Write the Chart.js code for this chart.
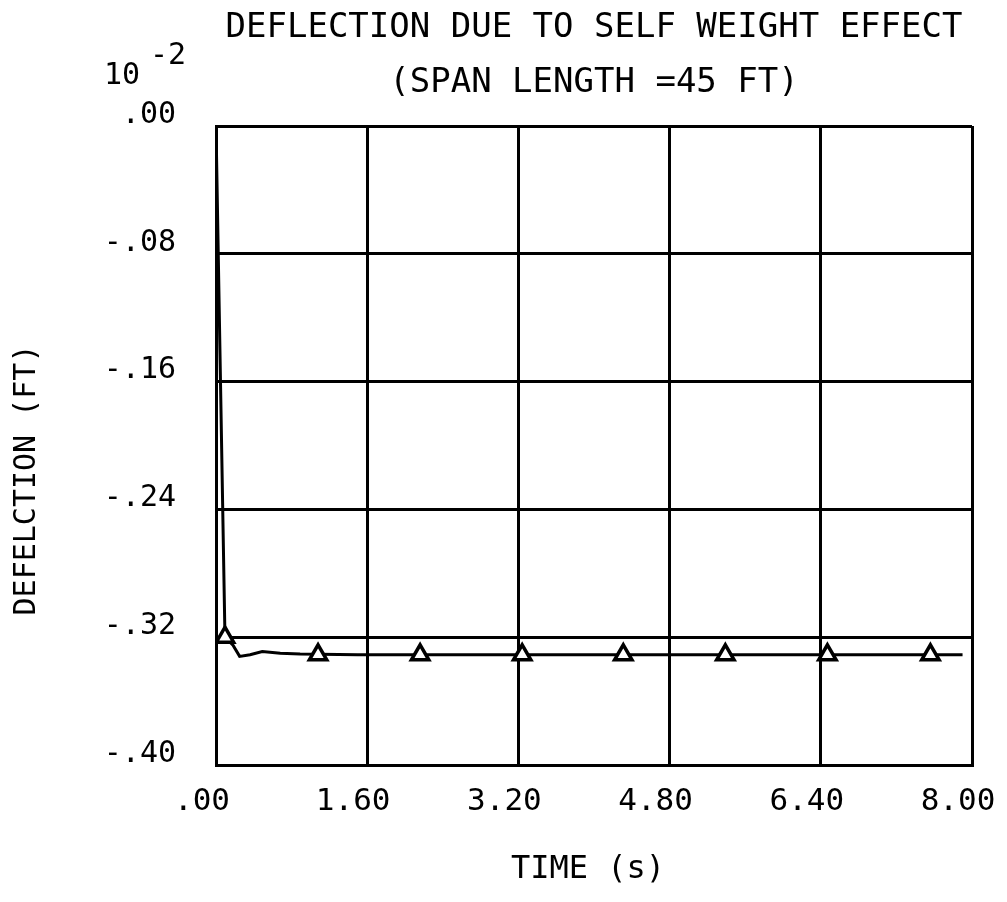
<!DOCTYPE html>
<html>
<head>
<meta charset="utf-8">
<title>Deflection due to self weight</title>
<script src="https://cdn.jsdelivr.net/npm/chart.js@4.4.0/dist/chart.umd.min.js"></script>
<style>
    body { margin: 0; background: #fff; }
    #chart-wrap { width: 1007px; height: 902px; position: relative; }
</style>
</head>
<body>
<div id="chart-wrap"><canvas id="deflection-chart"></canvas></div>
<script>
// midspan deflection vs time, deflection in units of 10^-2 ft
const timeSec = [0, 0.095, 0.18, 0.25, 0.36, 0.49, 0.68, 0.89, 1.5, 3.0, 4.5, 6.0, 7.9]
const deflection = [0, -0.320, -0.325, -0.332, -0.331, -0.329, -0.330, -0.3305, -0.331, -0.331, -0.331, -0.331, -0.331]

// triangle symbols placed along the curve
const markerTime = [0.095, 1.08, 2.16, 3.24, 4.31, 5.39, 6.47, 7.56]
const markerDefl = [-0.320, -0.331, -0.331, -0.331, -0.331, -0.331, -0.331, -0.331]

const xTicks = [0, 1.6, 3.2, 4.8, 6.4, 8.0]
const yTicks = [0, -0.08, -0.16, -0.24, -0.32, -0.40]

const plotFont = "'DejaVu Sans Mono', monospace"

// old plotter style: no leading zero, ".00", "-.08", "1.60"
function plotLabel(v) {
    return v.toFixed(2).replace(/^(-?)0\./, '$1.')
}

const toPoints = (xs, ys) => xs.map((x, i) => ({ x: x, y: ys[i] }))

// exponent note and axis captions
const captions = {
    id: 'captions',
    afterDraw(chart) {
        const ctx = chart.ctx
        ctx.save()
        ctx.fillStyle = '#000'
        ctx.textBaseline = 'alphabetic'
        ctx.textAlign = 'left'
        ctx.font = `30px ${plotFont}`
        ctx.fillText('10', 104, 84)
        ctx.fillText('-2', 150, 64)

        ctx.textAlign = 'center'
        ctx.textBaseline = 'middle'
        ctx.font = `32px ${plotFont}`
        ctx.fillText('TIME (s)', 588, 870)

        ctx.translate(27, 480)
        ctx.rotate(-Math.PI / 2)
        ctx.font = `30px ${plotFont}`
        ctx.fillText('DEFELCTION (FT)', 0, 0)
        ctx.restore()
    }
}

const deflectionCanvas = document.getElementById('deflection-chart')

new Chart(deflectionCanvas, {
    type: 'line',
    data: {
        datasets: [{
            label: 'markers',
            data: toPoints(markerTime, markerDefl),
            showLine: false,
            pointStyle: 'triangle',
            pointRadius: 10,
            pointBorderWidth: 3.5,
            pointBackgroundColor: '#fff',
            pointBorderColor: '#000'
        }, {
            label: 'deflection',
            data: toPoints(timeSec, deflection),
            borderColor: '#000',
            borderWidth: 3,
            pointRadius: 0,
            tension: 0
        }]
    },
    options: {
        responsive: true,
        maintainAspectRatio: false,
        animation: false,
        layout: { padding: { left: 0, right: 35, top: 0, bottom: 0 } },
        plugins: {
            legend: { display: false },
            tooltip: { enabled: false },
            title: {
                display: true,
                text: 'DEFLECTION DUE TO SELF WEIGHT EFFECT',
                fullSize: false,
                color: '#000',
                font: { family: plotFont, size: 34, weight: 'normal', lineHeight: 1 },
                padding: { top: 11, bottom: 18 }
            },
            subtitle: {
                display: true,
                text: '(SPAN LENGTH =45 FT)',
                fullSize: false,
                color: '#000',
                font: { family: plotFont, size: 34, weight: 'normal', lineHeight: 1 },
                padding: { top: 3, bottom: 26 }
            }
        },
        scales: {
            x: {
                type: 'linear',
                min: 0,
                max: 8,
                afterBuildTicks: s => { s.ticks = xTicks.map(v => ({ value: v })) },
                afterFit: s => {
                    s.height = 137
                    // let the end labels hang past the frame
                    s.paddingLeft = 0
                    s.paddingRight = 0
                },
                grid: { color: '#000', lineWidth: 3, drawTicks: false },
                border: { display: true, color: '#000', width: 3 },
                ticks: {
                    color: '#000',
                    padding: 18,
                    labelOffset: -14,
                    maxRotation: 0,
                    font: { family: plotFont, size: 31 },
                    callback: v => plotLabel(v)
                }
            },
            y: {
                type: 'linear',
                min: -0.40,
                max: 0,
                afterBuildTicks: s => { s.ticks = yTicks.map(v => ({ value: v })) },
                afterFit: s => { s.width = 216 },
                grid: { color: '#000', lineWidth: 3, drawTicks: false },
                border: { display: true, color: '#000', width: 3 },
                ticks: {
                    color: '#000',
                    padding: 40,
                    labelOffset: -11,
                    font: { family: plotFont, size: 30 },
                    callback: v => plotLabel(v)
                }
            }
        }
    },
    plugins: [captions]
})
</script>
</body>
</html>
